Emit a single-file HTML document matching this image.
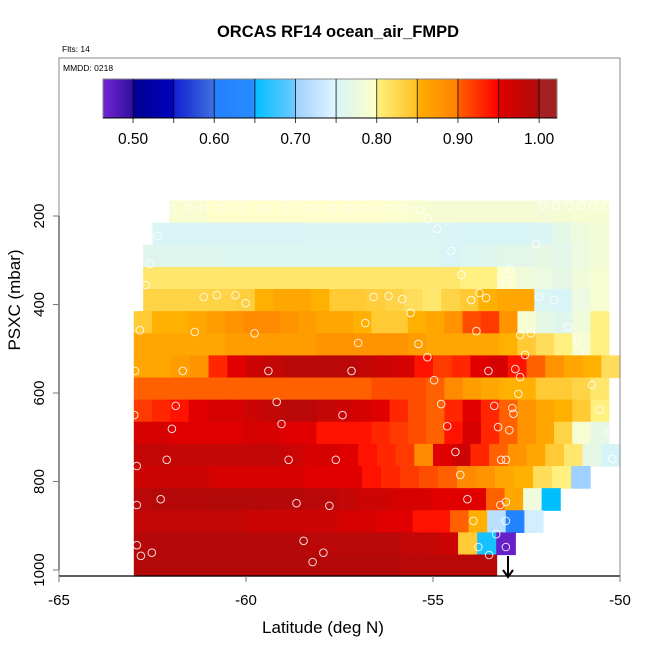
<!DOCTYPE html>
<html><head><meta charset="utf-8"><style>
html,body{margin:0;padding:0;background:#fff;}
svg{display:block;font-family:"Liberation Sans",sans-serif;}
</style></head><body>
<svg id="chart" width="650" height="650" viewBox="0 0 650 650">
<rect x="0" y="0" width="650" height="650" fill="#fff"/>
<g id="cells"></g>
<g id="pts"></g>
<g id="axes"></g>
<g id="cbar"></g>
<text x="338" y="37" text-anchor="middle" font-size="16.5" font-weight="bold">ORCAS RF14 ocean_air_FMPD</text>
<text x="62" y="52" font-size="8.5">Flts: 14</text>
<text x="63" y="71" font-size="8.5">MMDD: 0218</text>
<text x="323" y="633" text-anchor="middle" font-size="17">Latitude (deg N)</text>
<text transform="translate(20,300) rotate(-90)" text-anchor="middle" font-size="17">PSXC (mbar)</text>
</svg>
<script>
const xTicks=[-65,-60,-55,-50];
const yTicks=[200,400,600,800,1000];
const cbTicks=[0.50,0.55,0.60,0.65,0.70,0.75,0.80,0.85,0.90,0.95,1.00];
const cbLabels=["0.50","0.60","0.70","0.80","0.90","1.00"];
const cbLabelVals=[0.50,0.60,0.70,0.80,0.90,1.00];
const rowTopP=[165,215,265,315,365,415,465,515,565,615,665,715,765,815,865,915,965];
const rowStart=[-62.05,-62.5,-62.75,-62.75,-62.75,-63,-63,-63,-63,-63,-63,-63,-63,-63,-63,-63,-63];
const rowEnd=[-50.3,-50.3,-50.3,-50.3,-50.3,-50.3,-50.3,-50,-50.3,-50.3,-50.3,-50,-50.8,-51.6,-52.06,-52.8,-53.3];
const row0=[0.792,0.792,0.797,0.797,0.797,0.797,0.797,0.797,0.797,0.797,0.797,0.797,0.795,0.792,0.788,0.788,0.788,0.788,0.788,0.788,0.785,0.788,0.79,0.79];
const row1=[0.752,0.752,0.752,0.752,0.752,0.752,0.752,0.752,0.755,0.755,0.755,0.755,0.755,0.755,0.755,0.755,0.751,0.751,0.751,0.751,0.755,0.767,0.777,0.785];
const row2=[0.76,0.76,0.76,0.76,0.757,0.757,0.757,0.757,0.757,0.757,0.757,0.757,0.757,0.757,0.757,0.757,0.752,0.757,0.76,0.765,0.765,0.77,0.765,0.775,0.785];
const row3=[0.81,0.81,0.81,0.81,0.81,0.81,0.81,0.81,0.81,0.81,0.81,0.81,0.81,0.81,0.81,0.81,0.81,0.80,0.80,0.795,0.78,0.775,0.77,0.78,0.79];
const row4=[0.83,0.83,0.83,0.83,0.83,0.835,0.85,0.86,0.86,0.85,0.84,0.84,0.835,0.83,0.82,0.81,0.83,0.84,0.85,0.86,0.86,0.755,0.752,0.775,0.79];
const row5=[0.84,0.85,0.85,0.86,0.87,0.88,0.89,0.89,0.88,0.87,0.86,0.86,0.85,0.84,0.84,0.85,0.86,0.88,0.91,0.92,0.88,0.79,0.77,0.76,0.78,0.80];
const row6=[0.86,0.86,0.86,0.86,0.86,0.87,0.87,0.87,0.87,0.87,0.88,0.88,0.88,0.88,0.88,0.87,0.86,0.86,0.86,0.86,0.85,0.84,0.82,0.80,0.79,0.80];
const row7=[0.86,0.86,0.87,0.88,0.93,0.95,0.97,0.98,0.99,0.99,0.99,0.99,0.98,0.97,0.96,0.94,0.92,0.93,0.95,0.96,0.94,0.90,0.88,0.86,0.85,0.82];
const row8=[0.90,0.90,0.90,0.90,0.90,0.90,0.90,0.90,0.90,0.90,0.90,0.90,0.90,0.91,0.91,0.91,0.90,0.89,0.87,0.86,0.85,0.85,0.84,0.84,0.83,0.81];
const row9=[0.92,0.93,0.94,0.95,0.96,0.96,0.97,0.98,0.99,0.99,0.98,0.97,0.96,0.95,0.93,0.91,0.90,0.93,0.95,0.93,0.90,0.88,0.86,0.85,0.84,0.80];
const row10=[0.96,0.96,0.95,0.95,0.95,0.95,0.96,0.96,0.95,0.95,0.94,0.94,0.94,0.93,0.92,0.91,0.90,0.94,0.96,0.93,0.90,0.88,0.86,0.83,0.79,0.77];
const row11=[0.98,0.98,0.98,0.98,0.98,0.98,0.98,0.98,0.97,0.96,0.96,0.95,0.94,0.93,0.92,0.89,0.95,0.97,0.93,0.90,0.88,0.86,0.84,0.81,0.77,0.75];
const row12=[0.97,0.97,0.97,0.97,0.96,0.96,0.96,0.96,0.96,0.95,0.95,0.95,0.94,0.93,0.92,0.91,0.90,0.89,0.88,0.86,0.85,0.82,0.80,0.70];
const row13=[0.99,0.995,0.995,0.995,0.997,0.997,0.997,0.995,0.995,0.99,0.99,0.98,0.97,0.97,0.96,0.96,0.95,0.95,0.95,0.90,0.86,0.78,0.65];
const row14=[0.98,0.98,0.98,0.98,0.98,0.98,0.97,0.97,0.97,0.97,0.97,0.96,0.96,0.95,0.95,0.94,0.94,0.90,0.85,0.72,0.61,0.74];
const row15=[0.995,0.995,0.995,0.995,0.995,0.995,0.995,0.995,0.995,0.99,0.99,0.99,0.99,0.99,0.98,0.98,0.97,0.84,0.66,0.47];
const row16=[0.997,0.997,0.997,0.997,0.997,0.997,0.997,0.997,0.997,0.997,0.995,0.995,0.995,0.995,0.99,0.99,0.99,0.99,0.99];
const rowValues=[row0,row1,row2,row3,row4,row5,row6,row7,row8,row9,row10,row11,row12,row13,row14,row15,row16];
const ptLat=[-61.98,-61.53,-61.13,-60.68,-60.17,-59.53,-58.92,-58.27,-57.71,-57.31,-56.91,-56.54,-56.14,-55.74,-55.34,-55.15,-54.89,-54.51,-54.24,-53.98,-53.58,-53.02,-52.94,-52.24,-52.06,-51.71,-51.36,-51.04,-50.72,-50.37,
-62.36,-62.57,-62.68,-61.13,-60.78,-60.28,-60.01,-56.59,-56.19,-55.82,-55.6,-53.76,-52.16,-51.76,
-62.84,-61.37,-59.77,-56.81,-53.84,-52.67,-52.38,-51.39,-57.0,-55.39,-51.15,
-62.97,-61.69,-59.4,-57.18,-53.52,-52.8,-55.15,-52.54,-52.67,-54.97,-50.75,-52.72,
-61.88,-59.18,-57.42,-54.78,-53.36,-52.88,-52.85,-62.99,-50.54,
-61.98,-59.05,-54.62,-53.26,-52.96,-50.29,
-62.12,-62.92,-58.86,-57.6,-54.4,-53.18,-53.05,-50.2,
-54.27,-62.28,-62.92,-58.65,-57.77,-54.08,-53.2,-53.05,-53.92,-53.05,-53.31,
-62.92,-62.81,-62.52,-58.46,-57.93,-58.22,-53.79,-53.5,-53.05];
const ptP=[182,182,182,182,182,182,182,182,182,182,182,182,182,182,186,207,229,279,333,390,385,347,320,263,177,177,177,177,177,177,
245,308,356,383,379,379,397,383,381,388,419,374,383,390,
458,462,465,442,460,469,465,451,487,489,482,
550,550,550,550,550,546,519,514,564,571,582,602,
629,620,650,625,629,634,647,650,638,
681,670,675,677,684,690,
751,765,751,751,733,751,751,749,
785,840,853,849,855,840,853,846,889,889,919,
944,968,961,934,961,982,948,966,948];

const NS='http://www.w3.org/2000/svg';
const X0=59,X1=620,LAT0=-65,LAT1=-50;
const PY0=216,PY1=570,P0=200,P1=1000;
const PT=58,PB=576;
function xs(l){return X0+(l-LAT0)/(LAT1-LAT0)*(X1-X0);}
function ys(p){return PY0+(p-P0)/(P1-P0)*(PY1-PY0);}
const stops=[[0.45,0.50,'#8A2BE2','#3010A0'],[0.50,0.55,'#000090','#0000C0'],[0.55,0.60,'#1020D0','#4070E0'],[0.60,0.65,'#2080FF','#2A8CFF'],[0.65,0.70,'#00BFFF','#70C8FF'],[0.70,0.75,'#A0D0FF','#E0F6FF'],[0.75,0.80,'#D6F4F8','#FFFFC8'],[0.80,0.85,'#FFF080','#FFC020'],[0.85,0.90,'#FFB000','#FF8000'],[0.90,0.95,'#FF6000','#FF0000'],[0.95,1.00,'#E00000','#B00A0A'],[1.00,1.10,'#A52020','#A52020']];
function hx(h){return [parseInt(h.substr(1,2),16),parseInt(h.substr(3,2),16),parseInt(h.substr(5,2),16)];}
function col(v){
  for(const s of stops){ if(v>=s[0]&&v<s[1]){const t=(v-s[0])/(s[1]-s[0]);const a=hx(s[2]),b=hx(s[3]);
    return 'rgb('+a.map((c,i)=>Math.round(c+(b[i]-c)*t)).join(',')+')';}}
  return v<0.45?'#8A2BE2':'#A52020';
}
function mk(tag,attrs,parent){const e=document.createElementNS(NS,tag);for(const k in attrs)e.setAttribute(k,attrs[k]);parent.appendChild(e);return e;}

const cells=document.getElementById('cells');
rowValues.forEach((vals,r)=>{
  const yTop=Math.max(PT,ys(rowTopP[r])),yBot=Math.min(PB,ys(rowTopP[r]+50));
  const w=(rowEnd[r]-rowStart[r])/vals.length;
  vals.forEach((v,i)=>{
    const xa=xs(rowStart[r]+i*w),xb=xs(rowStart[r]+(i+1)*w);
    const e=mk('rect',{x:xa.toFixed(2),y:yTop.toFixed(2),width:(xb-xa+0.6).toFixed(2),height:(yBot-yTop+0.6).toFixed(2),fill:col(v)},cells);
    
    
  });
});
const pts=document.getElementById('pts');
ptLat.forEach((l,i)=>{
  const c=mk('circle',{cx:xs(l).toFixed(1),cy:ys(ptP[i]).toFixed(1),r:3.8,fill:'none',stroke:'#fff','stroke-opacity':0.85,'stroke-width':1},pts);
  
  
});
const arr=mk('path',{d:'M508 556 L508 576 M503 570 L508 577 L513 570',stroke:'#000','stroke-width':2,fill:'none'},pts);



const ax=document.getElementById('axes');
const fr=mk('rect',{x:X0,y:PT,width:X1-X0,height:PB-PT,fill:'none',stroke:'#888','stroke-width':1},ax);


mk('line',{x1:X0,y1:PB,x2:X1,y2:PB,stroke:'#000','stroke-width':1.3},ax);
mk('line',{x1:X0,y1:ys(200),x2:X0,y2:ys(1000),stroke:'#555','stroke-width':1.3},ax);
xTicks.forEach(t=>{
  const x=xs(t);
  mk('line',{x1:x,y1:PB,x2:x,y2:PB+6,stroke:'#777','stroke-width':1},ax);
  const tx=mk('text',{x:x,y:605,'text-anchor':'middle','font-size':15},ax);
  tx.textContent=t;
  
  
});
yTicks.forEach(t=>{
  const y=ys(t);
  mk('line',{x1:X0,y1:y,x2:X0-6,y2:y,stroke:'#777','stroke-width':1},ax);
  const tx=mk('text',{transform:'translate(44,'+y+') rotate(-90)','text-anchor':'middle','font-size':15},ax);
  tx.textContent=t;
  
  
});

const cb=document.getElementById('cbar');
const CX0=103,CX1=557,CV0=0.463,CV1=1.022,CY0=79,CY1=118;
function cx(v){return CX0+(v-CV0)/(CV1-CV0)*(CX1-CX0);}
for(let x=CX0;x<CX1;x+=1){
  const v=CV0+(x+0.5-CX0)/(CX1-CX0)*(CV1-CV0);
  mk('rect',{x:x,y:CY0,width:1.2,height:CY1-CY0,fill:col(v)},cb);
}
mk('rect',{x:CX0,y:CY0,width:CX1-CX0,height:CY1-CY0,fill:'none',stroke:'#888','stroke-width':1},cb);
mk('line',{x1:CX0,y1:CY1,x2:CX1,y2:CY1,stroke:'#000','stroke-width':1},cb);
cbTicks.forEach(t=>{
  const x=cx(t);
  mk('line',{x1:x,y1:CY0,x2:x,y2:CY1+5,stroke:'#000','stroke-width':1,'stroke-opacity':0.75},cb);
});
cbLabelVals.forEach((t,i)=>{
  const tx=mk('text',{x:cx(t),y:144,'text-anchor':'middle','font-size':15.5},cb);
  tx.textContent=cbLabels[i];
  
  
});
</script>
</body></html>
